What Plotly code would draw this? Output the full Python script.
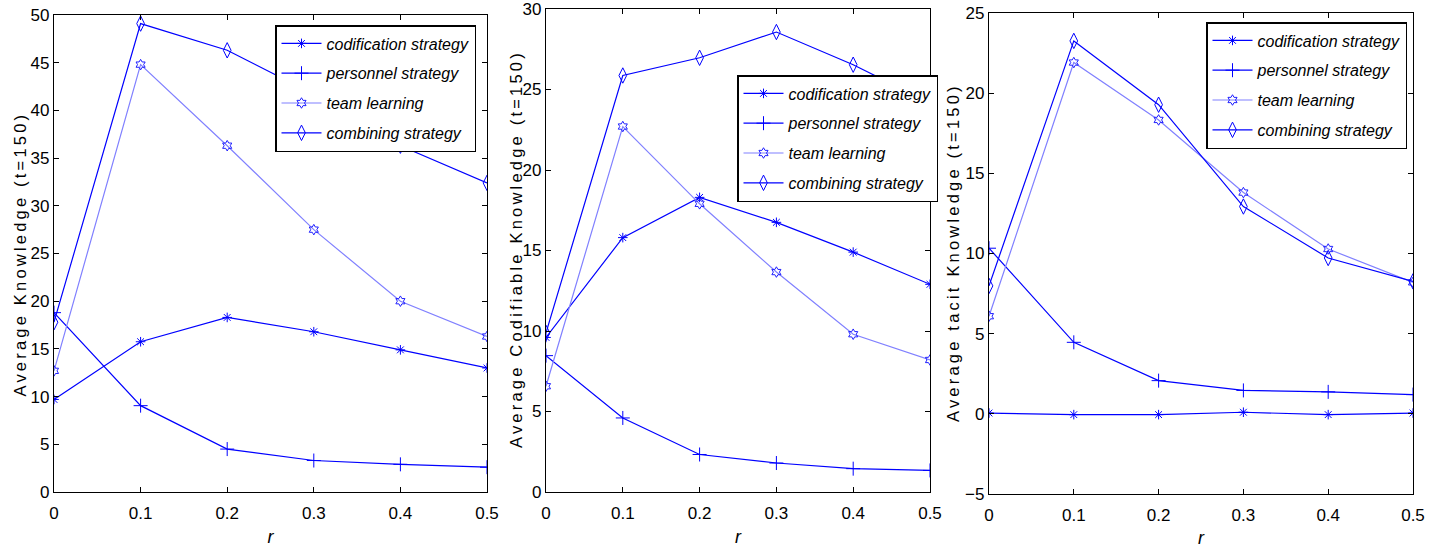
import plotly.graph_objects as go

r_values = [0, 0.1, 0.2, 0.3, 0.4, 0.5]
r_ticks = ["0", "0.1", "0.2", "0.3", "0.4", "0.5"]
series_names = ["codification strategy", "personnel strategy", "team learning", "combining strategy"]

# Panel 1: Average Knowledge (t=150)
k_codification = [9.7, 15.75, 18.3, 16.8, 14.9, 13.0]
k_personnel = [18.8, 9.05, 4.5, 3.3, 2.9, 2.6]
k_team = [12.7, 44.8, 36.3, 27.5, 20.0, 16.3]
k_combining = [17.8, 49.1, 46.3, 41.7, 36.3, 32.4]

# Panel 2: Average Codifiable Knowledge (t=150)
c_codification = [9.6, 15.8, 18.3, 16.75, 14.9, 12.9]
c_personnel = [8.47, 4.6, 2.33, 1.8, 1.45, 1.34]
c_team = [6.57, 22.7, 17.9, 13.66, 9.8, 8.2]
c_combining = [9.88, 25.87, 26.97, 28.57, 26.54, 24.16]

# Panel 3: Average tacit Knowledge (t=150)
t_codification = [0.05, -0.05, -0.05, 0.1, -0.05, 0.05]
t_personnel = [10.33, 4.46, 2.07, 1.46, 1.37, 1.2]
t_team = [6.09, 21.91, 18.33, 13.8, 10.28, 8.2]
t_combining = [7.98, 23.26, 19.28, 12.93, 9.72, 8.26]

W, H = 1439, 548

panels = [
    dict(data=[k_codification, k_personnel, k_team, k_combining],
         title="Average Knowledge (t=150)", yrange=[0, 50], yticks=[0, 5, 10, 15, 20, 25, 30, 35, 40, 45, 50],
         px=(54, 487), py=(15, 492), leg=(275, 25), tpos=(19.5, 254)),
    dict(data=[c_codification, c_personnel, c_team, c_combining],
         title="Average Codifiable Knowledge (t=150)", yrange=[0, 30], yticks=[0, 5, 10, 15, 20, 25, 30],
         px=(546, 930), py=(9, 492), leg=(737, 75), tpos=(516, 249)),
    dict(data=[t_codification, t_personnel, t_team, t_combining],
         title="Average tacit Knowledge (t=150)", yrange=[-5, 25], yticks=[-5, 0, 5, 10, 15, 20, 25],
         px=(989, 1413), py=(13, 494), leg=(1206, 22), tpos=(953, 253)),
]

styles = [
    dict(symbol="asterisk-open", line="#0000FF", marker="#0000FF", size=8),
    dict(symbol="cross-thin-open", line="#0000FF", marker="#0000FF", size=10),
    dict(symbol="hexagram-open", line="#8080FF", marker="#2020FF", size=8),
    dict(symbol="diamond-tall-open", line="#0000FF", marker="#0000FF", size=11),
]

base_font = "Liberation Sans, Arial, sans-serif"
tick_font = dict(family=base_font, size=17, color="black")
fig = go.Figure()
layout = dict(width=W, height=H, margin=dict(l=0, r=0, t=0, b=0),
              paper_bgcolor="white", plot_bgcolor="white", showlegend=True)
annotations = []

for i, p in enumerate(panels):
    n = i + 1
    xa = "x" if n == 1 else f"x{n}"
    ya = "y" if n == 1 else f"y{n}"
    lg = "legend" if n == 1 else f"legend{n}"
    for j, (name, vals, st) in enumerate(zip(series_names, p["data"], styles)):
        fig.add_trace(go.Scatter(
            x=r_values, y=vals, name=f"<i>{name}</i>", mode="lines+markers",
            xaxis=xa, yaxis=ya, legend=lg, legendgroup=f"p{n}s{j}",
            line=dict(color=st["line"], width=1.2),
            marker=dict(symbol=st["symbol"], size=st["size"], color=st["marker"],
                        line=dict(color=st["marker"], width=1)),
        ))
    axis_common = dict(showline=True, linecolor="black", linewidth=1.2, mirror="ticks",
                       ticks="inside", ticklen=5, tickcolor="black", showgrid=False,
                       zeroline=False, tickfont=tick_font, automargin=False,
                       ticklabeloverflow="allow")
    xdom = [p["px"][0] / W, p["px"][1] / W]
    ydom = [(H - p["py"][1]) / H, (H - p["py"][0]) / H]
    layout["xaxis" if n == 1 else f"xaxis{n}"] = dict(
        axis_common, domain=xdom, range=[0, 0.5], tickvals=r_values, ticktext=r_ticks,
        anchor=ya, ticklabelstandoff=5,
        title=dict(text="<i>r</i>", font=dict(family=base_font, size=18, color="black"), standoff=8))
    layout["yaxis" if n == 1 else f"yaxis{n}"] = dict(
        axis_common, domain=ydom, range=p["yrange"], tickvals=p["yticks"], anchor=xa)
    annotations.append(dict(
        text=f'<span style="letter-spacing:3.2px">{p["title"]}</span>',
        x=p["tpos"][0] / W, y=(H - p["tpos"][1]) / H, xref="paper", yref="paper",
        xanchor="center", yanchor="middle", textangle=-90, showarrow=False,
        font=dict(family=base_font, size=16.5, color="black")))
    layout[lg] = dict(x=p["leg"][0] / W, y=(H - p["leg"][1]) / H, xanchor="left", yanchor="top",
                      xref="paper", yref="paper",
                      bgcolor="white", bordercolor="black", borderwidth=1.5,
                      font=dict(family=base_font, size=16, color="black"),
                      itemwidth=40, tracegroupgap=6)

layout["annotations"] = annotations
fig.update_layout(**layout)
fig.write_html("out.html", config={"displayModeBar": False},
               post_script="document.body.style.margin='0px';")
